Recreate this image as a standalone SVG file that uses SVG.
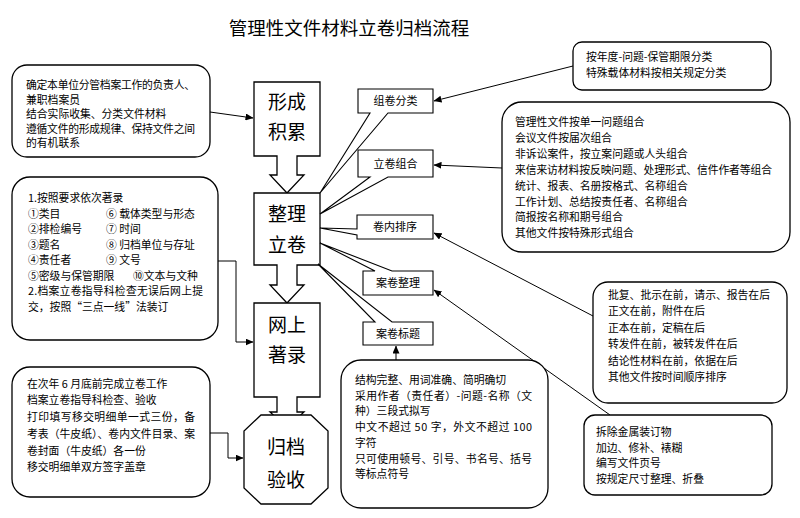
<svg xmlns="http://www.w3.org/2000/svg" width="800" height="518" viewBox="0 0 800 518">
<style>
text{font-family:"Noto Sans CJK SC","Noto Sans",sans-serif;fill:#000}
.t{font-size:18.5px}
.m{font-size:19px;text-anchor:middle}
.s{font-size:10.8px}
.l{font-size:11px;text-anchor:middle}
.box{fill:#fff;stroke:#000;stroke-width:1.3}
.cal{fill:none;stroke:#000;stroke-width:1.1}
.ln{fill:none;stroke:#000;stroke-width:1}
</style>
<defs>
<marker id="ah" markerUnits="userSpaceOnUse" markerWidth="8" markerHeight="7" refX="7.5" refY="3.5" orient="auto">
<path d="M0,0 L8,3.5 L0,7 Z" fill="#000"/>
</marker>
</defs>
<rect width="800" height="518" fill="#fff"/>
<text class="t" x="349" y="35" text-anchor="middle">管理性文件材料立卷归档流程</text>

<g id="connectors">
<path class="ln" d="M210,112 L253,118" marker-end="url(#ah)"/>
<path class="ln" d="M218,261 H236 V342 H253" marker-end="url(#ah)"/>
<path class="ln" d="M210,433 H228 V458 H243" marker-end="url(#ah)"/>
<path class="ln" d="M573,66 L434,101" marker-end="url(#ah)"/>
<path class="ln" d="M502,168 L434,165" marker-end="url(#ah)"/>
<path class="ln" d="M593,316 L434,233" marker-end="url(#ah)"/>
<path class="ln" d="M610,415 L434,290" marker-end="url(#ah)"/>
<path class="ln" d="M396,360 V346" marker-end="url(#ah)"/>
</g>

<g id="n-xingcheng">
<path class="box" d="M254,82 H320 V156 H297 V175 H304 L287,193 L270,175 H277 V156 H254 Z"/>
<text class="m" x="287" y="109">形成</text>
<text class="m" x="287" y="139">积累</text>
</g>
<g id="n-zhengli">
<path class="box" d="M254,193 H320 V265 H297 V285 H304 L287,303 L270,285 H277 V265 H254 Z"/>
<text class="m" x="287" y="221">整理</text>
<text class="m" x="287" y="252">立卷</text>
</g>
<g id="n-wangshang">
<path class="box" d="M254,303 H320 V397 H297 V412 H304 L287,428 L270,412 H277 V397 H254 Z"/>
<text class="m" x="287" y="332">网上</text>
<text class="m" x="287" y="362">著录</text>
</g>
<g id="n-guidang">
<path class="box" d="M261,415 H311 L328,431 V488 L311,504 H261 L244,488 V431 Z"/>
<text class="m" x="286" y="454">归档</text>
<text class="m" x="286" y="487">验收</text>
</g>

<g id="n-zujuan">
<path class="cal" d="M358,89 H433 V113 H388 L320,193 L370,113 H358 Z"/>
<text class="l" x="395.5" y="105">组卷分类</text>
</g>
<g id="n-lijuan">
<path class="cal" d="M358,150 H433 V177 H388 L320,214 L370,177 H358 Z"/>
<text class="l" x="395.5" y="167.5">立卷组合</text>
</g>
<g id="n-paixu">
<path class="cal" d="M357,215 H433 V239 H357 V235 L320,228 L357,229 Z"/>
<text class="l" x="395" y="231">卷内排序</text>
</g>
<g id="n-anjuanzl">
<path class="cal" d="M363,271 H375 L320,243 L392,271 H433 V295 H363 Z"/>
<text class="l" x="398" y="287">案卷整理</text>
</g>
<g id="n-anjuanbt">
<path class="cal" d="M363,322 H375 L318,264 L392,322 H433 V345 H363 Z"/>
<text class="l" x="398" y="337.5">案卷标题</text>
</g>

<g id="n-box1">
<rect class="box" x="12" y="65" width="198" height="92" rx="15"/>
<text class="s" x="26" y="89" textLength="169" lengthAdjust="spacing">确定本单位分管档案工作的负责人、</text>
<text class="s" x="26" y="103.5">兼职档案员</text>
<text class="s" x="26" y="118">结合实际收集、分类文件材料</text>
<text class="s" x="26" y="132.5" textLength="169" lengthAdjust="spacing">遵循文件的形成规律、保持文件之间</text>
<text class="s" x="26" y="147">的有机联系</text>
</g>
<g id="n-box2">
<rect class="box" x="12" y="177" width="206" height="163" rx="18"/>
<text class="s" x="28" y="202">1.按照要求依次著录</text>
<text class="s" x="28" y="217.5">①类目</text><text class="s" x="106" y="217.5">⑥ 载体类型与形态</text>
<text class="s" x="28" y="233">②排检编号</text><text class="s" x="106" y="233">⑦ 时间</text>
<text class="s" x="28" y="248.5">③题名</text><text class="s" x="106" y="248.5">⑧ 归档单位与存址</text>
<text class="s" x="28" y="264">④责任者</text><text class="s" x="106" y="264">⑨ 文号</text>
<text class="s" x="28" y="279.5">⑤密级与保管期限</text><text class="s" x="133" y="279.5">⑩文本与文种</text>
<text class="s" x="28" y="295" textLength="175" lengthAdjust="spacing">2.档案立卷指导科检查无误后网上提</text>
<text class="s" x="28" y="310.5">交，按照“三点一线”法装订</text>
</g>
<g id="n-box3">
<rect class="box" x="12" y="367" width="198" height="130" rx="18"/>
<text class="s" x="27" y="387.5">在次年 6 月底前完成立卷工作</text>
<text class="s" x="27" y="404">档案立卷指导科检查、验收</text>
<text class="s" x="27" y="421" textLength="168" lengthAdjust="spacing">打印填写移交明细单一式三份，备</text>
<text class="s" x="27" y="438" textLength="168" lengthAdjust="spacing">考表（牛皮纸）、卷内文件目录、案</text>
<text class="s" x="27" y="455">卷封面（牛皮纸）各一份</text>
<text class="s" x="27" y="471">移交明细单双方签字盖章</text>
</g>
<g id="n-topright">
<rect class="box" x="573" y="42" width="198" height="48" rx="9"/>
<text class="s" x="586" y="61">按年度-问题-保管期限分类</text>
<text class="s" x="586" y="77">特殊载体材料按相关规定分类</text>
</g>
<g id="n-bigright">
<rect class="box" x="502" y="102" width="288" height="150" rx="20"/>
<text class="s" x="515" y="126">管理性文件按单一问题组合</text>
<text class="s" x="515" y="141.9">会议文件按届次组合</text>
<text class="s" x="515" y="157.8">非诉讼案件，按立案问题或人头组合</text>
<text class="s" x="515" y="173.7" textLength="257" lengthAdjust="spacing">来信来访材料按反映问题、处理形式、信件作者等组合</text>
<text class="s" x="515" y="189.6">统计、报表、名册按格式、名称组合</text>
<text class="s" x="515" y="205.5">工作计划、总结按责任者、名称组合</text>
<text class="s" x="515" y="221.4">简报按名称和期号组合</text>
<text class="s" x="515" y="237.3">其他文件按特殊形式组合</text>
</g>
<g id="n-pifu">
<rect class="box" x="593" y="282" width="194" height="121" rx="15"/>
<text class="s" x="608" y="299">批复、批示在前，请示、报告在后</text>
<text class="s" x="608" y="315.4">正文在前，附件在后</text>
<text class="s" x="608" y="331.8">正本在前，定稿在后</text>
<text class="s" x="608" y="348.2">转发件在前，被转发件在后</text>
<text class="s" x="608" y="364.6">结论性材料在前，依据在后</text>
<text class="s" x="608" y="381">其他文件按时间顺序排序</text>
</g>
<g id="n-chaichu">
<rect class="box" x="584" y="415" width="188" height="80" rx="11"/>
<text class="s" x="596" y="436">拆除金属装订物</text>
<text class="s" x="596" y="451.5">加边、修补、裱糊</text>
<text class="s" x="596" y="467">编写文件页号</text>
<text class="s" x="596" y="482.5">按规定尺寸整理、折叠</text>
</g>
<g id="n-biaoti">
<rect class="box" x="341" y="360" width="207" height="148" rx="20"/>
<text class="s" x="355" y="384">结构完整、用词准确、简明确切</text>
<text class="s" x="355" y="399.7" textLength="177" lengthAdjust="spacing">采用作者（责任者）-问题-名称（文</text>
<text class="s" x="355" y="415.4">种）三段式拟写</text>
<text class="s" x="355" y="431.1" textLength="177" lengthAdjust="spacing">中文不超过 50 字，外文不超过 100</text>
<text class="s" x="355" y="446.8">字符</text>
<text class="s" x="355" y="462.5" textLength="177" lengthAdjust="spacing">只可使用顿号、引号、书名号、括号</text>
<text class="s" x="355" y="478.2">等标点符号</text>
</g>
</svg>
